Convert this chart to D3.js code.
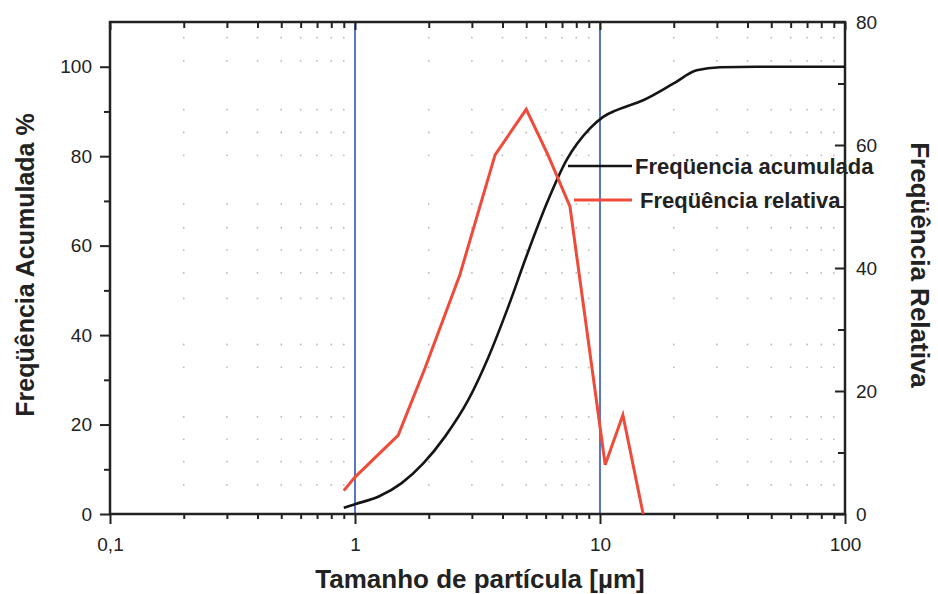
<!DOCTYPE html>
<html>
<head>
<meta charset="utf-8">
<script src="https://cdn.jsdelivr.net/npm/d3@7"></script>
<style>
    body { margin: 0; background: #fff; }
    svg { display: block; font-family: "Liberation Sans", Arial, sans-serif; }
    .tick text { fill: #222; font-size: 19px; }
    .axis-title { font-weight: bold; fill: #222; }
</style>
</head>
<body>
<svg id="chart" width="938" height="594"></svg>
<script>
// cumulative frequency (black line), left axis
const cumSize  = [0.9, 1.0, 1.25, 1.55, 1.9, 2.33, 2.9, 3.5, 4.22, 5.0, 6.06, 7.3, 9.1, 10.3, 11.7, 15, 19.9, 24.8, 30.9, 50, 100];
const cumValue = [1.4, 2.2, 3.9, 6.9, 11.3, 17.3, 25.5, 35.0, 46.3, 57.5, 69.4, 79.1, 86.2, 88.8, 90.3, 92.5, 96.2, 99.2, 99.9, 100, 100];

// relative frequency (red line), right axis
const relSize  = [0.9, 1.0, 1.5, 1.93, 2.68, 3.73, 5.0, 6.13, 7.54, 10.5, 12.4, 15.0];
const relValue = [3.8, 6.0, 12.8, 23.7, 38.9, 58.4, 65.8, 58.4, 50.0, 8.0, 16.1, 0];

// axis ticks
const xMajor = [0.1, 1, 10, 100];
const xTickLabels = ["0,1", "1", "10", "100"];
const xMinor = [0.2, 0.3, 0.4, 0.5, 0.6, 0.7, 0.8, 0.9, 2, 3, 4, 5, 6, 7, 8, 9, 20, 30, 40, 50, 60, 70, 80, 90];
const leftMajor = [0, 20, 40, 60, 80, 100];
const leftMinor = [10, 30, 50, 70, 90];
const rightMajor = [0, 20, 40, 60, 80];
const rightMinor = [10, 30, 50, 70];

// faint grid dots (rows in left-axis units)
const gridRows = [6.5, 11.7, 16.7, 21.7, 32.8, 37.9, 48.2, 53.9, 59, 64, 69.3, 80.2, 85.3, 90.4, 101.3, 106.5];

// vertical reference lines
const refLines = [1, 10];

const legendItems = [
    { label: "Freqüencia acumulada", color: "#151515" },
    { label: "Freqüência relativa", color: "#ee4b3a" }
];

const svg = d3.select("#chart");
const margin = { top: 22, right: 93, bottom: 80, left: 110 };
const width = 938 - margin.left - margin.right;
const height = 594 - margin.top - margin.bottom;

const g = svg.append("g")
    .attr("transform", `translate(${margin.left}, ${margin.top})`);

// scales
const x = d3.scaleLog().domain([0.1, 100]).range([0, width]);
const yLeft = d3.scaleLinear().domain([0, 110]).range([height, 0]);
const yRight = d3.scaleLinear().domain([0, 80]).range([height, 0]);

// grid dots
const dots = [];
xMinor.forEach(xv => gridRows.forEach(yv => dots.push([xv, yv])));
g.append("g").selectAll("circle")
    .data(dots)
    .enter()
    .append("circle")
    .attr("cx", d => x(d[0]))
    .attr("cy", d => yLeft(d[1]))
    .attr("r", 0.9)
    .attr("fill", "#b8b8b8");

// blue reference lines
g.selectAll(".ref")
    .data(refLines)
    .enter()
    .append("line")
    .attr("class", "ref")
    .attr("x1", d => x(d))
    .attr("x2", d => x(d))
    .attr("y1", 0)
    .attr("y2", height)
    .attr("stroke", "#2d55b8")
    .attr("stroke-width", 1.6);

// axes (domain paths removed, frame drawn separately)
function cleanAxis(sel) {
    sel.select(".domain").remove();
    sel.selectAll(".tick line").attr("stroke", "#222").attr("stroke-width", 2);
}

// bottom
g.append("g")
    .attr("transform", `translate(0, ${height})`)
    .call(d3.axisBottom(x).tickValues(xMajor).tickSize(10).tickPadding(6)
        .tickFormat((d, i) => xTickLabels[i]))
    .call(cleanAxis)
    .selectAll("text").attr("dy", "1.1em");
g.append("g")
    .attr("transform", `translate(0, ${height})`)
    .call(d3.axisBottom(x).tickValues(xMinor).tickSize(5).tickFormat(""))
    .call(cleanAxis);

// top (ticks inward)
g.append("g")
    .call(d3.axisTop(x).tickValues(xMajor).tickSize(-8).tickFormat(""))
    .call(cleanAxis);
g.append("g")
    .call(d3.axisTop(x).tickValues(xMinor).tickSize(-6).tickFormat(""))
    .call(cleanAxis);

// left (ticks outward)
g.append("g")
    .call(d3.axisLeft(yLeft).tickValues(leftMajor).tickSize(10).tickPadding(8))
    .call(cleanAxis);
g.append("g")
    .call(d3.axisLeft(yLeft).tickValues(leftMinor).tickSize(6).tickFormat(""))
    .call(cleanAxis);

// right (ticks inward, labels outside)
g.append("g")
    .attr("transform", `translate(${width}, 0)`)
    .call(d3.axisRight(yRight).tickValues(rightMajor).tickSize(-10).tickPadding(11))
    .call(cleanAxis);
g.append("g")
    .attr("transform", `translate(${width}, 0)`)
    .call(d3.axisRight(yRight).tickValues(rightMinor).tickSize(-7).tickFormat(""))
    .call(cleanAxis);

// frame
g.append("rect")
    .attr("width", width)
    .attr("height", height)
    .attr("fill", "none")
    .attr("stroke", "#222")
    .attr("stroke-width", 2.5);

// lines
const cumData = cumSize.map((s, i) => ({ size: s, value: cumValue[i] }));
const relData = relSize.map((s, i) => ({ size: s, value: relValue[i] }));

g.append("path")
    .datum(cumData)
    .attr("fill", "none")
    .attr("stroke", legendItems[0].color)
    .attr("stroke-width", 2.6)
    .attr("d", d3.line()
        .x(d => x(d.size))
        .y(d => yLeft(d.value))
        .curve(d3.curveMonotoneX));

g.append("path")
    .datum(relData)
    .attr("fill", "none")
    .attr("stroke", legendItems[1].color)
    .attr("stroke-width", 3)
    .attr("stroke-linejoin", "miter")
    .attr("d", d3.line()
        .x(d => x(d.size))
        .y(d => yRight(d.value)));

// legend
const legend = svg.append("g")
    .attr("transform", "translate(568, 166)");

legend.selectAll("line")
    .data(legendItems)
    .enter()
    .append("line")
    .attr("x1", (d, i) => i * 6)
    .attr("x2", 64)
    .attr("y1", (d, i) => i * 34)
    .attr("y2", (d, i) => i * 34)
    .attr("stroke", d => d.color)
    .attr("stroke-width", (d, i) => i ? 3 : 2.6);

legend.selectAll("text")
    .data(legendItems)
    .enter()
    .append("text")
    .attr("x", (d, i) => 67 + i * 5)
    .attr("y", (d, i) => i * 34 + 8)
    .style("font-size", "22px")
    .style("font-weight", "bold")
    .style("fill", "#222")
    .text(d => d.label);

// axis titles
svg.append("text")
    .attr("class", "axis-title")
    .attr("x", 480)
    .attr("y", 588)
    .style("text-anchor", "middle")
    .style("font-size", "26px")
    .text("Tamanho de partícula [µm]");

svg.append("text")
    .attr("class", "axis-title")
    .attr("transform", "translate(34, 265) rotate(-90)")
    .style("text-anchor", "middle")
    .style("font-size", "25px")
    .text("Freqüência Acumulada %");

svg.append("text")
    .attr("class", "axis-title")
    .attr("transform", "translate(911, 265) rotate(90)")
    .style("text-anchor", "middle")
    .style("font-size", "26px")
    .text("Freqüência Relativa");
</script>
</body>
</html>
